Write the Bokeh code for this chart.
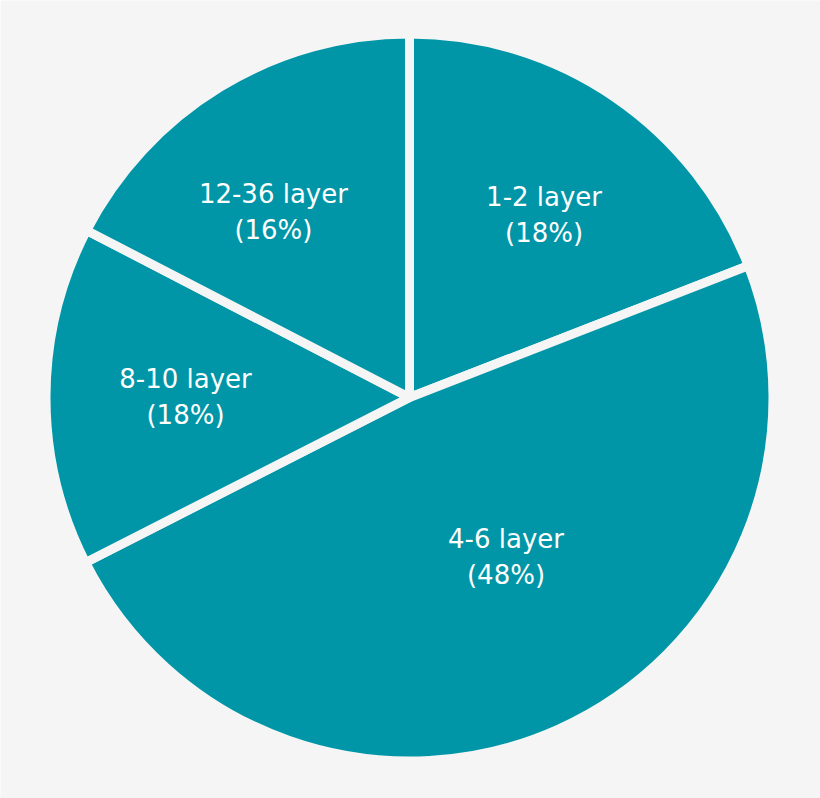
from math import pi, cos, sin, radians
from bokeh.plotting import figure
from bokeh.models import Range1d, ColumnDataSource
from bokeh.core.properties import value
from bokeh.embed import file_html
from bokeh.resources import INLINE

# data
categories = ["1-2 layer", "4-6 layer", "8-10 layer", "12-36 layer"]
pct_labels = ["(18%)", "(48%)", "(18%)", "(16%)"]
shares = [19.1, 48.4, 15.1, 17.4]  # slice sizes as drawn in the picture

# styling
BG = "#f5f5f5"
TEAL = "#0096a7"
W, H = 820, 798
CX, CY = 409, H - 397
R = 359
label_r = [0.632, 0.52, 0.624, 0.64]
label_shift = [-2, 7, 0, 5]  # degrees

total = sum(shares)
starts, ends, lx, ly = [], [], [], []
cum = 0.0
for i, s in enumerate(shares):
    a0 = pi / 2 - 2 * pi * (cum + s) / total
    a1 = pi / 2 - 2 * pi * cum / total
    starts.append(a0)
    ends.append(a1)
    mid = (a0 + a1) / 2 + radians(label_shift[i])
    lx.append(CX + label_r[i] * R * cos(mid))
    ly.append(CY + label_r[i] * R * sin(mid))
    cum += s

src = ColumnDataSource(dict(cat=categories, pct=pct_labels, start=starts, end=ends,
                            lx=lx, ly=ly))

p = figure(width=W, height=H, output_backend="svg", toolbar_location=None,
           x_range=Range1d(0, W), y_range=Range1d(0, H), min_border=0,
           background_fill_color=BG, border_fill_color=BG, outline_line_color=None)
p.axis.visible = False
p.grid.visible = False

p.wedge(x=CX, y=CY, radius=R + 4.5, start_angle="start", end_angle="end",
        fill_color=TEAL, line_color=BG, line_width=9, source=src)

p.text(x="lx", y="ly", text="cat", source=src, text_color="white",
       text_font=value("DejaVu Sans"), text_font_size="26px", text_align="center",
       text_baseline="middle", y_offset=-18)
p.text(x="lx", y="ly", text="pct", source=src, text_color="white",
       text_font=value("DejaVu Sans"), text_font_size="26px", text_align="center",
       text_baseline="middle", y_offset=18)

html = file_html(p, INLINE)
html = html.replace("<body>", '<body style="background:%s">' % BG, 1)
open("out.html", "w").write(html)
